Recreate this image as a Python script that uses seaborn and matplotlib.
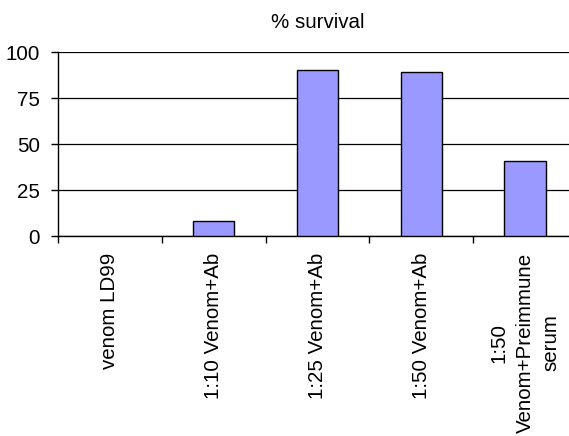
import matplotlib
matplotlib.use("Agg")
import matplotlib.pyplot as plt
import seaborn as sns
import pandas as pd

# Groups and percent survival
groups = ["venom LD99", "1:10 Venom+Ab", "1:25 Venom+Ab", "1:50 Venom+Ab",
          "1:50\nVenom+Preimmune\nserum"]
survival = [0, 8, 90, 89, 41]
y_ticks = [0, 25, 50, 75, 100]

sns.set_style("white")
plt.rcParams["font.family"] = ["Liberation Sans", "DejaVu Sans"]
plt.rcParams["text.color"] = "black"
plt.rcParams["xtick.color"] = "black"
plt.rcParams["ytick.color"] = "black"
plt.rcParams["xtick.labelcolor"] = "black"
plt.rcParams["ytick.labelcolor"] = "black"

df = pd.DataFrame({"group": groups, "survival": survival})

fig = plt.figure(figsize=(5.69, 4.36), dpi=100)
ax = fig.add_axes([0.102, 0.4587, 0.912, 0.422])

sns.barplot(data=df, x="group", y="survival", ax=ax, color="#9999FF",
            saturation=1, width=0.4, edgecolor="black", linewidth=1.0, zorder=3)

# Empty groups get no outline
for patch in ax.patches:
    if patch.get_height() == 0:
        patch.set_linewidth(0)

ax.set_ylim(0, 100)
ax.set_xlim(-0.5, len(groups) - 0.5)
ax.set_yticks(y_ticks)
ax.set_yticklabels([str(v) for v in y_ticks], fontsize=14.8, color="black")
ax.yaxis.grid(True, color="black", linewidth=0.9, zorder=0)
ax.set_axisbelow(True)

# Category boundaries carry the tick marks; labels sit at the centres
n = len(groups)
ax.set_xticks([i - 0.5 for i in range(n)])
ax.set_xticklabels([""] * n)
ax.set_xticks(list(range(n)), minor=True)
labels = ax.set_xticklabels(groups, minor=True, rotation=90, fontsize=14.8,
                            ha="center", va="top", multialignment="center",
                            color="black")
for lab in ax.get_xticklabels(minor=True):
    lab.set_linespacing(1.45)
ax.tick_params(axis="x", which="major", direction="out", length=5, width=1,
               color="black", bottom=True)
ax.tick_params(axis="x", which="minor", length=0, pad=12)
ax.tick_params(axis="y", direction="out", length=5, width=1, color="black",
               left=True, pad=8)

for side in ("top", "right"):
    ax.spines[side].set_visible(False)
for side in ("left", "bottom"):
    ax.spines[side].set_color("black")
    ax.spines[side].set_linewidth(1.0)

ax.set_xlabel("")
ax.set_ylabel("")
ax.set_title("% survival", fontsize=14.8, pad=17, color="black")

fig.savefig("out.png", dpi=100)
